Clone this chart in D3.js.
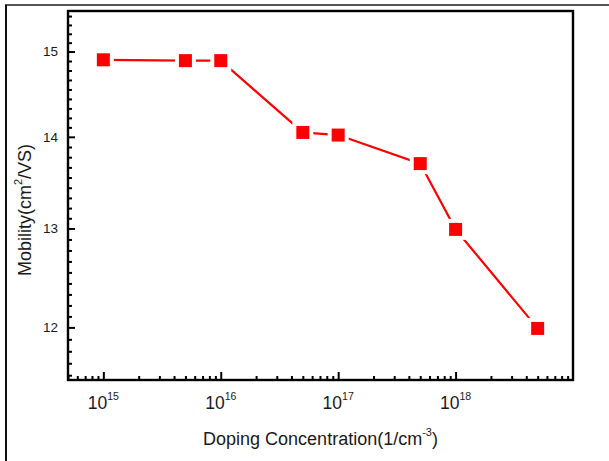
<!DOCTYPE html>
<html>
<head>
<meta charset="utf-8">
<script src="https://cdn.jsdelivr.net/npm/d3@7"></script>
<style>
  body { margin: 0; background: #fff; }
  text { font-family: "Liberation Sans", Arial, sans-serif; fill: #1a1a1a; }
</style>
</head>
<body>
<svg id="chart" width="609" height="461"></svg>
<script>
// doping concentration (1/cm^3) and mobility
var doping   = [1e15, 5e15, 1e16, 5e16, 1e17, 5e17, 1e18, 5e18];
var mobility = [14.9, 14.89, 14.89, 14.05, 14.02, 13.70, 12.99, 11.99];

var xMajor = [1e15, 1e16, 1e17, 1e18];
var xExponents = ["15", "16", "17", "18"];
var yMajor = [12, 13, 14, 15];

var svg = d3.select("#chart"),
    margin = {top: 11, right: 36, bottom: 81, left: 68},
    width = +svg.attr("width") - margin.left - margin.right,
    height = +svg.attr("height") - margin.top - margin.bottom;

// picture border (top and left only, as in the original screenshot)
svg.append("line").attr("x1", 5).attr("y1", 5).attr("x2", 609).attr("y2", 5)
    .attr("stroke", "#555").attr("stroke-width", 2);
svg.append("line").attr("x1", 6).attr("y1", 5).attr("x2", 6).attr("y2", 461)
    .attr("stroke", "#111").attr("stroke-width", 2);

var g = svg.append("g").attr("transform", "translate(" + margin.left + "," + margin.top + ")");

var x = d3.scaleLog().domain([5e14, 1e19]).range([0, width]);
var y = d3.scaleLog().domain([11.5, 15.5]).range([height, 0]);

// minor ticks: x at 2..9 per decade, y as 8 even (log) steps between majors
var xMinor = [];
for (var d = 14; d <= 18; d++) {
  for (var k = 2; k <= 9; k++) {
    var v = k * Math.pow(10, d);
    if (v >= 5e14 && v <= 1e19) xMinor.push(v);
  }
}
var yMinor = [];
for (var m = 11; m <= 15; m++) {
  for (var i = 1; i <= 8; i++) {
    var lv = Math.log10(m) + i / 9 * (Math.log10(m + 1) - Math.log10(m));
    var yv = Math.pow(10, lv);
    if (yv > 11.5 && yv < 15.5) yMinor.push(yv);
  }
}

function blackTicks(a) {
  a.select(".domain").remove();
  a.selectAll("line").attr("stroke-width", 2).attr("stroke", "#000");
}

g.append("g")
    .attr("transform", "translate(0," + height + ")")
    .call(d3.axisBottom(x).tickValues(xMinor).tickSize(-4).tickFormat(""))
    .call(blackTicks);
g.append("g")
    .attr("transform", "translate(0," + height + ")")
    .call(d3.axisBottom(x).tickValues(xMajor).tickSize(-8).tickFormat(""))
    .call(blackTicks);

g.append("g")
    .call(d3.axisLeft(y).tickValues(yMinor).tickSize(-4).tickFormat(""))
    .call(blackTicks);
g.append("g")
    .call(d3.axisLeft(y).tickValues(yMajor).tickSize(-7).tickPadding(10).tickFormat(d3.format("d")))
    .call(blackTicks)
    .call(function(a) {
      a.selectAll("text").attr("font-size", 13.5).attr("font-family", null).attr("fill", "#222");
    });

// x tick labels 10^n
var xl = g.append("g").selectAll("text")
    .data(xMajor)
  .enter().append("text")
    .attr("x", function(d) { return x(d); })
    .attr("y", height + 29)
    .attr("text-anchor", "middle")
    .attr("font-size", 17.5);
xl.append("tspan").text("10");
xl.append("tspan")
    .attr("font-size", 10.5)
    .attr("dy", -9)
    .text(function(d, i) { return xExponents[i]; });

// frame
g.append("rect")
    .attr("width", width).attr("height", height)
    .attr("fill", "none").attr("stroke", "#000").attr("stroke-width", 2.4);

// data
var pts = doping.map(function(d, i) { return {c: d, mu: mobility[i]}; });

var line = d3.line()
    .x(function(d) { return x(d.c); })
    .y(function(d) { return y(d.mu); });

g.append("path")
    .datum(pts)
    .attr("fill", "none")
    .attr("stroke", "#ff0000")
    .attr("stroke-width", 2.2)
    .attr("d", line);

var s = 13, gap = 4;
g.selectAll(".gap").data(pts).enter().append("rect")
    .attr("x", function(d) { return x(d.c) - s / 2 - gap; })
    .attr("y", function(d) { return y(d.mu) - s / 2 - gap; })
    .attr("width", s + 2 * gap).attr("height", s + 2 * gap)
    .attr("fill", "#fff");
g.selectAll(".mk").data(pts).enter().append("rect")
    .attr("x", function(d) { return x(d.c) - s / 2; })
    .attr("y", function(d) { return y(d.mu) - s / 2; })
    .attr("width", s).attr("height", s)
    .attr("fill", "#ff0000");

// axis titles
var xt = svg.append("text")
    .attr("x", margin.left + width / 2)
    .attr("y", 445)
    .attr("text-anchor", "middle")
    .attr("font-size", 18);
xt.append("tspan").text("Doping Concentration(1/cm");
xt.append("tspan").attr("font-size", 11).attr("dy", -9).text("-3");
xt.append("tspan").attr("dy", 9).text(")");

var yt = svg.append("text")
    .attr("transform", "translate(31,210) rotate(-90)")
    .attr("text-anchor", "middle")
    .attr("font-size", 18);
yt.append("tspan").text("Mobility(cm");
yt.append("tspan").attr("font-size", 11).attr("dy", -9).text("2");
yt.append("tspan").attr("dy", 9).text("/VS)");
</script>
</body>
</html>
